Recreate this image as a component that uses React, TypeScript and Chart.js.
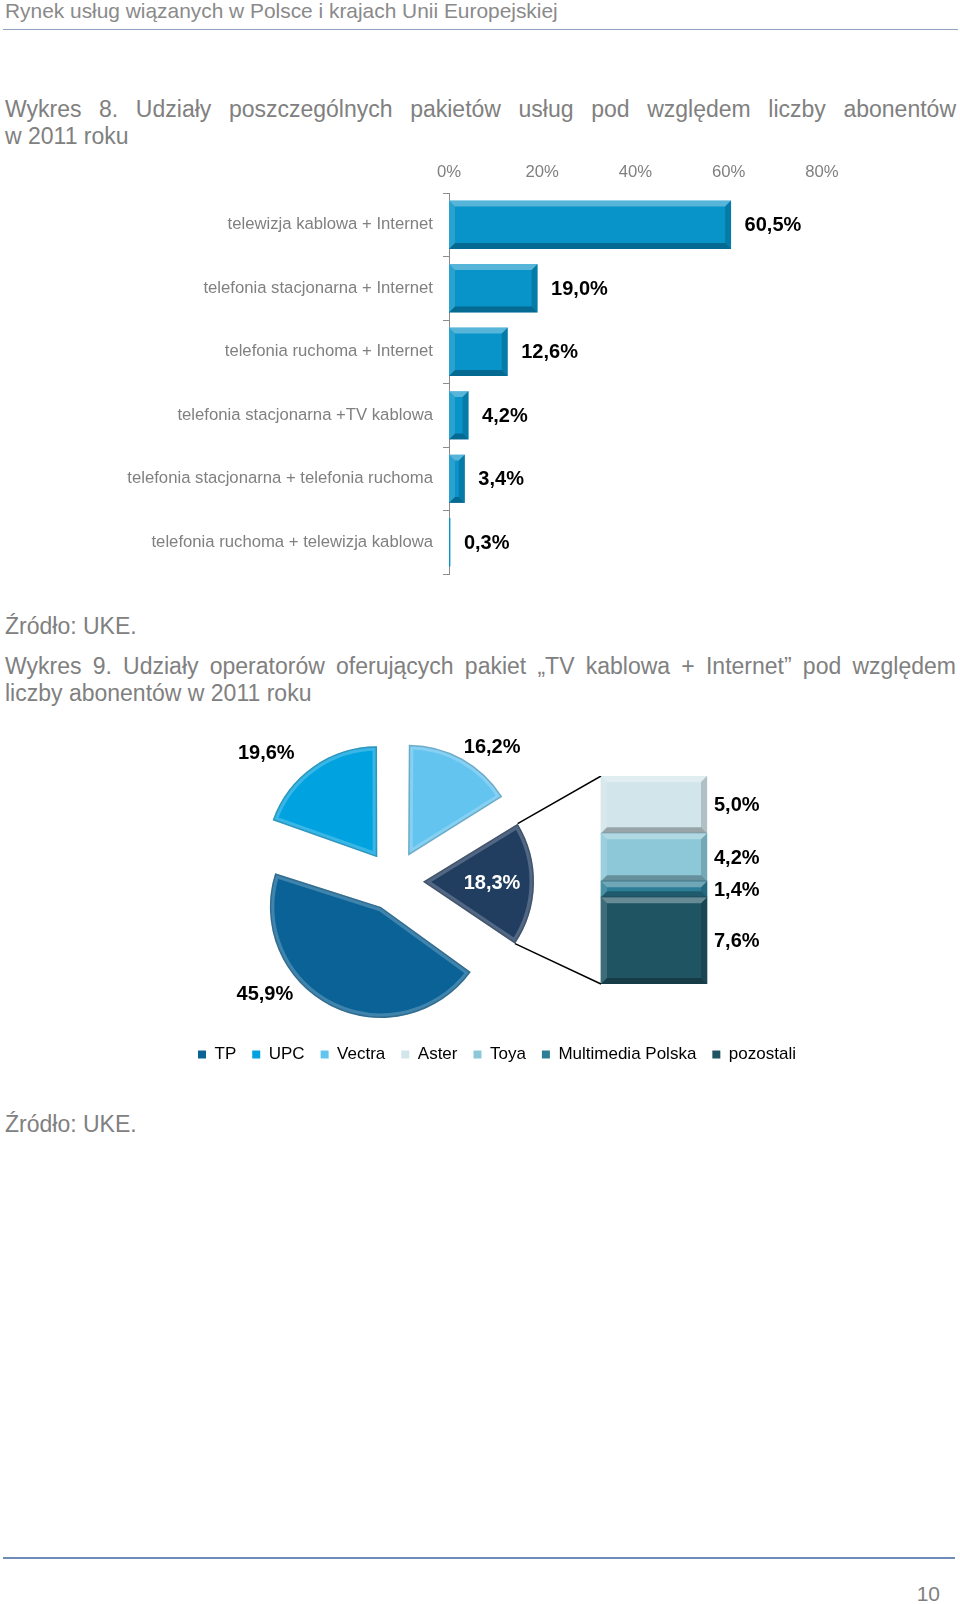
import { useEffect, useRef } from "react";
import { Chart, registerables } from "chart.js";

Chart.register(...registerables);

const FONT = '"Liberation Sans", Arial, Helvetica, sans-serif';
const GREY = "#808080";

// Wykres 8 – pakiety usług
const PACKAGE_LABELS = [
  "telewizja kablowa + Internet",
  "telefonia stacjonarna + Internet",
  "telefonia ruchoma + Internet",
  "telefonia stacjonarna +TV kablowa",
  "telefonia stacjonarna + telefonia ruchoma",
  "telefonia ruchoma + telewizja kablowa",
];
const PACKAGE_SHARES = [60.5, 19.0, 12.6, 4.2, 3.4, 0.3];
const PACKAGE_TICKS = [0, 20, 40, 60, 80];

// Wykres 9 – operatorzy TV kablowa + Internet
const OPERATOR_LABELS = ["TP", "UPC", "Vectra", "pozostali operatorzy"];
const OPERATOR_SHARES = [45.9, 19.6, 16.2, 18.3];
const SPLIT_LABELS = ["Aster", "Toya", "Multimedia Polska", "pozostali"];
const SPLIT_SHARES = [5.0, 4.2, 1.4, 7.6];

const OPERATOR_COLORS = ["#0a6296", "#00a3e0", "#64c4f0", "#213d60"];
const SPLIT_COLORS = ["#d2e5ea", "#8cc8d8", "#2b7e96", "#1f5463"];

// where each canvas sits on the page
const PACKAGES_BOX = { left: 0, top: 150, width: 840, height: 430 };
const PIE_BOX = { left: 180, top: 720, width: 428, height: 322 };
const STACK_BOX = { left: 182, top: 776, width: 660, height: 297 };

const PIE_RADIUS = 111;
const PIE_OFFSET = 116; // chart.js translates a slice by offset / 4
// label centre relative to the tip of each (exploded) slice
const PIE_LABEL_SHIFT = [
  [-116, 88],
  [-111, -104],
  [84, -108],
  [69, 1.5],
];
const PIE_LABEL_COLORS = ["#000", "#000", "#000", "#fff"];

const pct = (v: number) => v.toFixed(1).replace(".", ",") + "%";
const sum = (a: number[]) => a.reduce((s, v) => s + v, 0);

Chart.defaults.font.family = FONT;

// geometry of a slice as chart.js actually paints it (translated, slightly narrowed)
function sliceShape(arc: any) {
  const half = (arc.startAngle + arc.endAngle) / 2;
  const shift = (arc.options.offset || 0) / 4;
  const fix = 1 - Math.sin(Math.min(Math.PI, arc.circumference));
  const radiusOffset = shift * fix;
  const alpha = arc.endAngle - arc.startAngle;
  const beta = Math.max(0.001, alpha * PIE_RADIUS - radiusOffset / Math.PI) / PIE_RADIUS;
  const trim = (alpha - beta) / 2;
  return {
    x: arc.x + Math.cos(half) * shift,
    y: arc.y + Math.sin(half) * shift,
    start: arc.startAngle + trim,
    end: arc.endAngle - trim,
  };
}

// excel-like bevel on every bar rectangle
const bevelBars = {
  id: "bevelBars",
  afterDatasetsDraw(chart: any) {
    const { ctx } = chart;
    const horizontal = chart.options.indexAxis === "y";
    chart.data.datasets.forEach((_: any, di: number) => {
      chart.getDatasetMeta(di).data.forEach((bar: any) => {
        const p = bar.getProps(["x", "y", "base", "width", "height"], true);
        let l, r, t, b;
        if (horizontal) {
          l = Math.min(p.base, p.x);
          r = Math.max(p.base, p.x);
          t = p.y - p.height / 2;
          b = p.y + p.height / 2;
        } else {
          l = p.x - p.width / 2;
          r = p.x + p.width / 2;
          t = Math.min(p.y, p.base);
          b = Math.max(p.y, p.base);
        }
        const s = Math.min(6, (r - l) / 2, (b - t) / 2);
        if (s < 1) return;
        const quad = (pts: number[][], fill: string) => {
          ctx.beginPath();
          ctx.moveTo(pts[0][0], pts[0][1]);
          pts.slice(1).forEach((q) => ctx.lineTo(q[0], q[1]));
          ctx.closePath();
          ctx.fillStyle = fill;
          ctx.fill();
        };
        ctx.save();
        quad([[l, t], [r, t], [r - s, t + s], [l + s, t + s]], "rgba(255,255,255,0.32)");
        quad([[l, t], [l + s, t + s], [l + s, b - s], [l, b]], "rgba(255,255,255,0.14)");
        quad([[l, b], [l + s, b - s], [r - s, b - s], [r, b]], "rgba(0,0,0,0.28)");
        quad([[r, t], [r, b], [r - s, b - s], [r - s, t + s]], "rgba(0,0,0,0.16)");
        ctx.restore();
      });
    });
  },
};

const packageValueLabels = {
  id: "packageValueLabels",
  afterDatasetsDraw(chart: any) {
    const { ctx } = chart;
    ctx.save();
    ctx.font = `bold 20px ${FONT}`;
    ctx.fillStyle = "#000";
    ctx.textAlign = "left";
    ctx.textBaseline = "middle";
    chart.getDatasetMeta(0).data.forEach((bar: any, i: number) => {
      ctx.fillText(pct(PACKAGE_SHARES[i]), bar.x + 13.5, bar.y + 1);
    });
    ctx.restore();
  },
};

// keep every exploded slice at the same radius (chart.js grows wide slices)
const evenExplode = {
  id: "evenExplode",
  afterDatasetUpdate(chart: any, args: any) {
    args.meta.data.forEach((arc: any) => {
      const shift = (arc.options.offset || 0) / 4;
      const fix = 1 - Math.sin(Math.min(Math.PI, arc.circumference));
      arc.outerRadius = PIE_RADIUS - shift * fix;
    });
  },
};

const pieDecor = {
  id: "pieDecor",
  afterDatasetsDraw(chart: any) {
    const { ctx } = chart;
    chart.getDatasetMeta(0).data.forEach((arc: any, i: number) => {
      const sh = sliceShape(arc);
      ctx.save();
      ctx.beginPath();
      ctx.moveTo(sh.x, sh.y);
      ctx.arc(sh.x, sh.y, PIE_RADIUS, sh.start, sh.end);
      ctx.closePath();
      ctx.clip();
      ctx.lineJoin = "round";
      ctx.lineWidth = 9;
      ctx.strokeStyle = "rgba(255,255,255,0.22)";
      ctx.stroke();
      ctx.lineWidth = 3;
      ctx.strokeStyle = "rgba(0,0,0,0.18)";
      ctx.stroke();
      ctx.restore();

      ctx.save();
      ctx.font = `bold 20px ${FONT}`;
      ctx.fillStyle = PIE_LABEL_COLORS[i];
      ctx.textAlign = "center";
      ctx.textBaseline = "middle";
      const [dx, dy] = PIE_LABEL_SHIFT[i];
      ctx.fillText(pct(OPERATOR_SHARES[i]), sh.x + dx, sh.y + dy);
      ctx.restore();
    });
  },
};

const segmentLabels = {
  id: "segmentLabels",
  afterDatasetsDraw(chart: any) {
    const { ctx } = chart;
    ctx.save();
    ctx.font = `bold 20px ${FONT}`;
    ctx.fillStyle = "#000";
    ctx.textAlign = "left";
    ctx.textBaseline = "middle";
    chart.data.datasets.forEach((ds: any, di: number) => {
      const bar: any = chart.getDatasetMeta(di).data[0];
      ctx.fillText(pct(ds.data[0]), bar.x + bar.width / 2 + 7, (bar.y + bar.base) / 2 + 1);
    });
    ctx.restore();
  },
};

function Text({ x, baseline, size, width, justify, align, color, children }: any) {
  const lh = Math.round(size * 1.15);
  const top = baseline - 0.905 * size - (lh - 1.149 * size) / 2;
  return (
    <div
      style={{
        position: "absolute",
        left: x,
        top,
        width,
        fontFamily: FONT,
        fontSize: size,
        lineHeight: `${lh}px`,
        color: color ?? GREY,
        whiteSpace: justify ? "normal" : "nowrap",
        textAlign: justify ? "justify" : align ?? "left",
        textAlignLast: justify ? "justify" : undefined,
      }}
    >
      {children}
    </div>
  );
}

const boxStyle = (b: any): any => ({
  position: "absolute",
  left: b.left,
  top: b.top,
  width: b.width,
  height: b.height,
});

export default function App() {
  const packagesRef = useRef<HTMLCanvasElement>(null);
  const pieRef = useRef<HTMLCanvasElement>(null);
  const stackRef = useRef<HTMLCanvasElement>(null);

  useEffect(() => {
    if (!packagesRef.current || !pieRef.current || !stackRef.current) return;
    const tickFont = { family: FONT, size: 16.7 };

    const packages = new Chart(packagesRef.current, {
      type: "bar",
      data: {
        labels: PACKAGE_LABELS,
        datasets: [
          {
            data: PACKAGE_SHARES,
            backgroundColor: "#0893c9",
            borderWidth: 0,
            categoryPercentage: 1,
            barPercentage: 0.76,
          },
        ],
      },
      options: {
        indexAxis: "y",
        animation: false,
        responsive: true,
        maintainAspectRatio: false,
        events: [],
        layout: { padding: { right: 18, bottom: 6 } },
        plugins: { legend: { display: false }, tooltip: { enabled: false } },
        scales: {
          x: {
            position: "top",
            min: 0,
            max: PACKAGE_TICKS[PACKAGE_TICKS.length - 1],
            afterBuildTicks: (s: any) => {
              s.ticks = PACKAGE_TICKS.map((value) => ({ value }));
            },
            ticks: { padding: 11, color: GREY, font: tickFont, callback: (v: any) => `${v}%` },
            grid: { display: false, drawTicks: false },
            border: { display: false },
            afterFit: (s: any) => {
              s.height = 43;
              s.paddingLeft = 0;
              s.paddingRight = 0;
            },
          },
          y: {
            grid: {
              display: true,
              drawOnChartArea: false,
              drawTicks: true,
              tickLength: 6,
              offset: true,
              color: "#8c8c8c",
            },
            border: { display: true, color: "#8c8c8c" },
            ticks: { padding: 10, color: GREY, font: tickFont },
            afterFit: (s: any) => {
              s.width = 449;
              s.paddingTop = 0;
              s.paddingBottom = 0;
            },
          },
        },
      },
      plugins: [bevelBars, packageValueLabels],
    } as any);

    const pie = new Chart(pieRef.current, {
      type: "pie",
      data: {
        labels: OPERATOR_LABELS,
        datasets: [
          {
            data: OPERATOR_SHARES,
            backgroundColor: OPERATOR_COLORS,
            borderWidth: 0,
            offset: PIE_OFFSET,
            // the "other" slice faces the bar on the right
            rotation: 360 - ((OPERATOR_SHARES[0] + OPERATOR_SHARES[1]) / sum(OPERATOR_SHARES)) * 360,
          },
        ],
      },
      options: {
        animation: false,
        responsive: true,
        maintainAspectRatio: false,
        events: [],
        radius: PIE_RADIUS,
        plugins: { legend: { display: false }, tooltip: { enabled: false } },
      },
      plugins: [evenExplode, pieDecor],
    } as any);

    const connectors = {
      id: "connectors",
      afterDraw(chart: any) {
        const arc: any = pie.getDatasetMeta(0).data[3];
        if (!arc) return;
        const sh = sliceShape(arc);
        const dx = PIE_BOX.left - STACK_BOX.left;
        const dy = PIE_BOX.top - STACK_BOX.top;
        const n = chart.data.datasets.length;
        const top: any = chart.getDatasetMeta(n - 1).data[0];
        const bottom: any = chart.getDatasetMeta(0).data[0];
        const left = bottom.x - bottom.width / 2;
        const { ctx } = chart;
        ctx.save();
        ctx.strokeStyle = "#000";
        ctx.lineWidth = 1.5;
        ctx.beginPath();
        ctx.moveTo(sh.x + PIE_RADIUS * Math.cos(sh.start) + dx, sh.y + PIE_RADIUS * Math.sin(sh.start) + dy);
        ctx.lineTo(left, top.y);
        ctx.moveTo(sh.x + PIE_RADIUS * Math.cos(sh.end) + dx, sh.y + PIE_RADIUS * Math.sin(sh.end) + dy);
        ctx.lineTo(left, bottom.base);
        ctx.stroke();
        ctx.restore();
      },
    };

    // stacked from the bottom: pozostali first, Aster on top
    const order = SPLIT_LABELS.map((_, i) => i).reverse();
    const stack = new Chart(stackRef.current, {
      type: "bar",
      data: {
        labels: ["pozostali operatorzy"],
        datasets: order.map((i) => ({
          label: SPLIT_LABELS[i],
          data: [SPLIT_SHARES[i]],
          backgroundColor: SPLIT_COLORS[i],
          borderWidth: 0,
          barThickness: 106,
        })),
      },
      options: {
        animation: false,
        responsive: true,
        maintainAspectRatio: false,
        events: [],
        plugins: {
          tooltip: { enabled: false },
          legend: {
            position: "bottom",
            align: "start",
            onClick: () => {},
            labels: {
              boxWidth: 8,
              boxHeight: 8,
              padding: 16,
              color: GREY,
              font: { family: FONT, size: 17 },
              generateLabels: () => [
                ...OPERATOR_LABELS.slice(0, 3).map((text, i) => ({
                  text,
                  fillStyle: OPERATOR_COLORS[i],
                  strokeStyle: OPERATOR_COLORS[i],
                  lineWidth: 0,
                  hidden: false,
                  index: i,
                })),
                ...SPLIT_LABELS.map((text, i) => ({
                  text,
                  fillStyle: SPLIT_COLORS[i],
                  strokeStyle: SPLIT_COLORS[i],
                  lineWidth: 0,
                  hidden: false,
                  index: i + 3,
                })),
              ],
            },
          },
        },
        scales: {
          x: {
            stacked: true,
            ticks: { display: false },
            grid: { display: false, drawTicks: false },
            border: { display: false },
            afterFit: (s: any) => {
              s.height = 46;
            },
          },
          y: {
            stacked: true,
            min: 0,
            max: sum(SPLIT_SHARES),
            ticks: { display: false },
            grid: { display: false, drawTicks: false },
            border: { display: false },
            afterFit: (s: any) => {
              s.width = 284;
            },
          },
        },
      },
      plugins: [bevelBars, segmentLabels, connectors],
    } as any);

    return () => {
      packages.destroy();
      pie.destroy();
      stack.destroy();
    };
  }, []);

  return (
    <div style={{ position: "absolute", left: 0, top: 0, width: 960, height: 1604, background: "#fff", overflow: "hidden" }}>
      <Text x={5} baseline={18.3} size={20.9} color="#8a8a8a">
        Rynek usług wiązanych w Polsce i krajach Unii Europejskiej
      </Text>
      <div style={{ position: "absolute", left: 3, top: 28.5, width: 955, height: 1.5, background: "#8fa3c1" }} />

      <Text x={5} baseline={116.5} size={23} width={951} justify>
        Wykres 8. Udziały poszczególnych pakietów usług pod względem liczby abonentów
      </Text>
      <Text x={5} baseline={143.3} size={23}>
        w 2011 roku
      </Text>

      <div style={boxStyle(PACKAGES_BOX)}>
        <canvas ref={packagesRef} />
      </div>

      <Text x={5} baseline={633.5} size={23}>
        Źródło: UKE.
      </Text>
      <Text x={5} baseline={673.7} size={23} width={951} justify>
        Wykres 9. Udziały operatorów oferujących pakiet „TV kablowa + Internet” pod względem
      </Text>
      <Text x={5} baseline={700.7} size={23}>
        liczby abonentów w 2011 roku
      </Text>

      <div style={boxStyle(PIE_BOX)}>
        <canvas ref={pieRef} />
      </div>
      <div style={boxStyle(STACK_BOX)}>
        <canvas ref={stackRef} />
      </div>

      <Text x={5} baseline={1132} size={23}>
        Źródło: UKE.
      </Text>

      <div style={{ position: "absolute", left: 3, top: 1557, width: 952, height: 2, background: "#6f8cb8" }} />
      <Text x={840} baseline={1601} size={21} width={100} align="right">
        10
      </Text>
    </div>
  );
}
